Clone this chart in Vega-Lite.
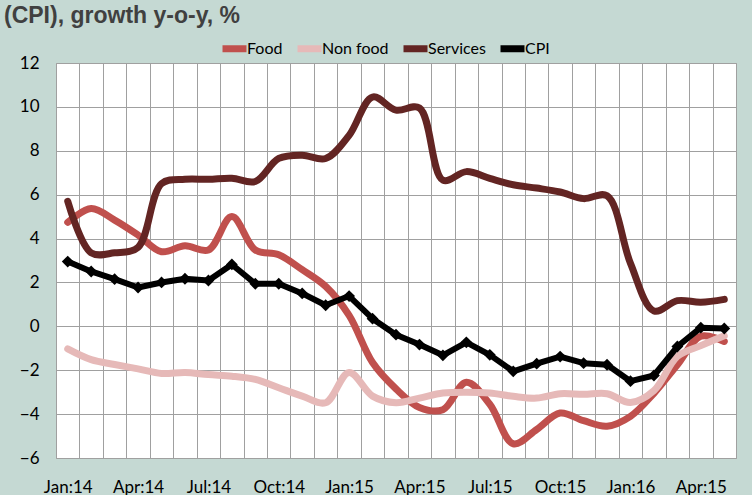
{
  "$schema": "https://vega.github.io/schema/vega-lite/v6.json",
  "width": 680,
  "height": 395,
  "autosize": {"type": "none"},
  "padding": {"left": 56, "top": 63, "right": 16, "bottom": 37},
  "background": "#c5d9d3",
  "title": {
    "text": "(CPI), growth y-o-y, %",
    "anchor": "start",
    "frame": "group",
    "orient": "top",
    "font": "Liberation Sans",
    "fontSize": 23,
    "fontWeight": "bold",
    "color": "#404040",
    "baseline": "alphabetic",
    "dx": -52,
    "dy": 33,
    "offset": 20
  },
  "config": {
    "view": {"fill": "white", "stroke": "#a0a0a0", "strokeWidth": 1},
    "font": "Lato",
    "axis": {
      "labelFont": "Lato",
      "labelFontSize": 17,
      "labelColor": "#000000",
      "gridColor": "#a0a0a0",
      "gridWidth": 1,
      "gridOpacity": 1,
      "domain": false,
      "ticks": false,
      "title": null
    },
    "legend": {
      "labelFont": "Lato",
      "labelFontSize": 16,
      "labelColor": "#000000"
    }
  },
  "data": {
    "values": [
      {"m":"Jan:14","s":"Food","v":4.74},{"m":"Feb:14","s":"Food","v":5.37},{"m":"Mar:14","s":"Food","v":4.84},{"m":"Apr:14","s":"Food","v":4.16},{"m":"May:14","s":"Food","v":3.4},{"m":"Jun:14","s":"Food","v":3.67},{"m":"Jul:14","s":"Food","v":3.48},{"m":"Aug:14","s":"Food","v":5.0},{"m":"Sep:14","s":"Food","v":3.48},{"m":"Oct:14","s":"Food","v":3.26},{"m":"Nov:14","s":"Food","v":2.58},{"m":"Dec:14","s":"Food","v":1.82},{"m":"Jan:15","s":"Food","v":0.5},{"m":"Feb:15","s":"Food","v":-1.65},{"m":"Mar:15","s":"Food","v":-2.85},{"m":"Apr:15","s":"Food","v":-3.7},{"m":"May:15","s":"Food","v":-3.8},{"m":"Jun:15","s":"Food","v":-2.55},{"m":"Jul:15","s":"Food","v":-3.55},{"m":"Aug:15","s":"Food","v":-5.35},{"m":"Sep:15","s":"Food","v":-4.7},{"m":"Oct:15","s":"Food","v":-3.95},{"m":"Nov:15","s":"Food","v":-4.3},{"m":"Dec:15","s":"Food","v":-4.55},{"m":"Jan:16","s":"Food","v":-4.1},{"m":"Feb:16","s":"Food","v":-3.05},{"m":"Mar:16","s":"Food","v":-1.75},{"m":"Apr:16","s":"Food","v":-0.45},{"m":"May:16","s":"Food","v":-0.69},
      {"m":"Jan:14","s":"Non food","v":-1.03},{"m":"Feb:14","s":"Non food","v":-1.52},{"m":"Mar:14","s":"Non food","v":-1.74},{"m":"Apr:14","s":"Non food","v":-1.94},{"m":"May:14","s":"Non food","v":-2.15},{"m":"Jun:14","s":"Non food","v":-2.1},{"m":"Jul:14","s":"Non food","v":-2.2},{"m":"Aug:14","s":"Non food","v":-2.27},{"m":"Sep:14","s":"Non food","v":-2.42},{"m":"Oct:14","s":"Non food","v":-2.8},{"m":"Nov:14","s":"Non food","v":-3.18},{"m":"Dec:14","s":"Non food","v":-3.48},{"m":"Jan:15","s":"Non food","v":-2.1},{"m":"Feb:15","s":"Non food","v":-3.18},{"m":"Mar:15","s":"Non food","v":-3.48},{"m":"Apr:15","s":"Non food","v":-3.27},{"m":"May:15","s":"Non food","v":-3.04},{"m":"Jun:15","s":"Non food","v":-3.0},{"m":"Jul:15","s":"Non food","v":-3.04},{"m":"Aug:15","s":"Non food","v":-3.19},{"m":"Sep:15","s":"Non food","v":-3.27},{"m":"Oct:15","s":"Non food","v":-3.07},{"m":"Nov:15","s":"Non food","v":-3.1},{"m":"Dec:15","s":"Non food","v":-3.07},{"m":"Jan:16","s":"Non food","v":-3.47},{"m":"Feb:16","s":"Non food","v":-2.93},{"m":"Mar:16","s":"Non food","v":-1.37},{"m":"Apr:16","s":"Non food","v":-0.88},{"m":"May:16","s":"Non food","v":-0.43},
      {"m":"Jan:14","s":"Services","v":5.7},{"m":"Feb:14","s":"Services","v":3.35},{"m":"Mar:14","s":"Services","v":3.35},{"m":"Apr:14","s":"Services","v":3.6},{"m":"May:14","s":"Services","v":6.5},{"m":"Jun:14","s":"Services","v":6.7},{"m":"Jul:14","s":"Services","v":6.7},{"m":"Aug:14","s":"Services","v":6.75},{"m":"Sep:14","s":"Services","v":6.6},{"m":"Oct:14","s":"Services","v":7.65},{"m":"Nov:14","s":"Services","v":7.8},{"m":"Dec:14","s":"Services","v":7.65},{"m":"Jan:15","s":"Services","v":8.7},{"m":"Feb:15","s":"Services","v":10.45},{"m":"Mar:15","s":"Services","v":9.85},{"m":"Apr:15","s":"Services","v":9.95},{"m":"May:15","s":"Services","v":6.66},{"m":"Jun:15","s":"Services","v":7.05},{"m":"Jul:15","s":"Services","v":6.74},{"m":"Aug:15","s":"Services","v":6.45},{"m":"Sep:15","s":"Services","v":6.3},{"m":"Oct:15","s":"Services","v":6.12},{"m":"Nov:15","s":"Services","v":5.82},{"m":"Dec:15","s":"Services","v":5.95},{"m":"Jan:16","s":"Services","v":2.87},{"m":"Feb:16","s":"Services","v":0.7},{"m":"Mar:16","s":"Services","v":1.17},{"m":"Apr:16","s":"Services","v":1.1},{"m":"May:16","s":"Services","v":1.23},
      {"m":"Jan:14","s":"CPI","v":2.95},{"m":"Feb:14","s":"CPI","v":2.5},{"m":"Mar:14","s":"CPI","v":2.15},{"m":"Apr:14","s":"CPI","v":1.77},{"m":"May:14","s":"CPI","v":2.0},{"m":"Jun:14","s":"CPI","v":2.17},{"m":"Jul:14","s":"CPI","v":2.09},{"m":"Aug:14","s":"CPI","v":2.82},{"m":"Sep:14","s":"CPI","v":1.94},{"m":"Oct:14","s":"CPI","v":1.94},{"m":"Nov:14","s":"CPI","v":1.5},{"m":"Dec:14","s":"CPI","v":0.96},{"m":"Jan:15","s":"CPI","v":1.38},{"m":"Feb:15","s":"CPI","v":0.35},{"m":"Mar:15","s":"CPI","v":-0.38},{"m":"Apr:15","s":"CPI","v":-0.83},{"m":"May:15","s":"CPI","v":-1.32},{"m":"Jun:15","s":"CPI","v":-0.73},{"m":"Jul:15","s":"CPI","v":-1.3},{"m":"Aug:15","s":"CPI","v":-2.05},{"m":"Sep:15","s":"CPI","v":-1.7},{"m":"Oct:15","s":"CPI","v":-1.38},{"m":"Nov:15","s":"CPI","v":-1.68},{"m":"Dec:15","s":"CPI","v":-1.75},{"m":"Jan:16","s":"CPI","v":-2.5},{"m":"Feb:16","s":"CPI","v":-2.24},{"m":"Mar:16","s":"CPI","v":-0.92},{"m":"Apr:16","s":"CPI","v":-0.06},{"m":"May:16","s":"CPI","v":-0.1}
    ]
  },
  "encoding": {
    "x": {
      "field": "m",
      "type": "ordinal",
      "sort": null,
      "bandPosition": 0.5,
      "scale": {"type": "band", "paddingInner": 0, "paddingOuter": 0},
      "axis": {
        "tickBand": "extent",
        "grid": true,
        "labelAngle": 0,
        "labelPadding": 21,
        "labelOverlap": false,
        "labelExpr": "indexof(['Jan:14','Apr:14','Jul:14','Oct:14','Jan:15','Apr:15','Jul:15','Oct:15','Jan:16'], datum.value) >= 0 ? datum.value : (datum.value == 'Apr:16' ? 'Apr:15' : '')"
      }
    },
    "y": {
      "field": "v",
      "type": "quantitative",
      "scale": {"domain": [-6, 12], "nice": false, "zero": false},
      "axis": {"values": [-6, -4, -2, 0, 2, 4, 6, 8, 10, 12], "grid": true, "labelPadding": 17}
    },
    "color": {
      "field": "s",
      "type": "nominal",
      "scale": {"domain": ["Food", "Non food", "Services", "CPI"], "range": ["#c0504d", "#e6b9b8", "#632523", "#000000"]},
      "legend": {
        "title": null,
        "orient": "none",
        "direction": "horizontal",
        "legendX": 163,
        "legendY": -30,
        "symbolType": "stroke",
        "symbolStrokeWidth": 7,
        "symbolSize": 576,
        "labelOffset": -3,
        "columnPadding": 0
      }
    }
  },
  "layer": [
    {
      "transform": [{"filter": "datum.s != 'CPI'"}],
      "mark": {"type": "line", "interpolate": "catmull-rom", "strokeWidth": 7, "strokeCap": "round", "strokeJoin": "round"}
    },
    {
      "transform": [{"filter": "datum.s == 'CPI'"}],
      "mark": {"type": "line", "strokeWidth": 6, "strokeJoin": "round", "point": {"shape": "diamond", "size": 140, "filled": true, "color": "#000000"}}
    }
  ]
}
